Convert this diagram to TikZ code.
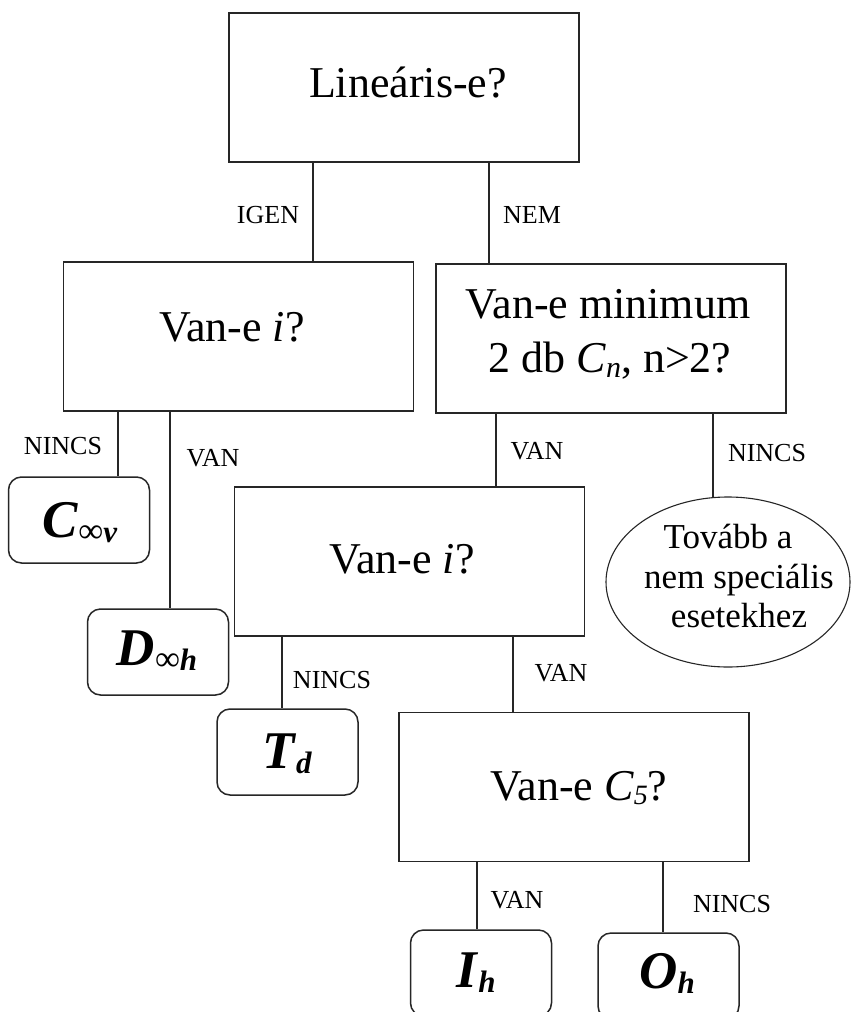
\documentclass[tikz,border=0pt]{standalone}
\usepackage{fontspec}
\setmainfont{Liberation Serif}
\usetikzlibrary{shapes.geometric}
\begin{document}
\begin{tikzpicture}[x=1pt,y=-1pt,
  qbox/.style={draw=black!85, line width=1.5pt, minimum width=350pt, minimum height=149pt, inner sep=0pt},
  rbox/.style={draw=black!85, line width=1.5pt, rounded corners=13pt, minimum width=141pt, minimum height=86pt, inner sep=0pt},
  ebox/.style={draw=black!85, line width=1.1pt, ellipse, minimum width=244pt, minimum height=170pt, inner sep=0pt},
  conn/.style={draw=black!85, line width=1.5pt},
  big/.style={font=\fontsize{44}{44}\selectfont, anchor=base, inner sep=0pt},
  ell/.style={font=\fontsize{35}{35}\selectfont, anchor=base, inner sep=0pt},
  lbl/.style={font=\fontsize{26}{26}\selectfont, anchor=base, inner sep=0pt},
  sym/.style={font=\fontsize{53}{53}\selectfont, anchor=base, inner sep=0pt}]
\fill[white] (0,0) rectangle (851,1012);
\useasboundingbox (0,0) rectangle (851,1012);
\clip (0,0) rectangle (851,1012);
\newcommand{\subtext}[1]{\raisebox{-5pt}{\fontsize{31}{31}\selectfont #1}}
\newcommand{\infsym}{{\fontsize{35}{35}\selectfont ∞}}
% boxes
\node[qbox] (b1) at (404,87.5) {};
\node[qbox] (b2) at (238.5,336.5) {};
\node[qbox] (b3) at (611,338.5) {};
\node[qbox] (b4) at (409.5,561.5) {};
\node[qbox] (b5) at (574,787) {};
\node[rbox] (cv) at (79,520) {};
\node[rbox] (dh) at (158,652) {};
\node[rbox] (td) at (287.5,752) {};
\node[rbox] (ih) at (481,973) {};
\node[rbox] (oh) at (668.5,976) {};
\node[ebox] (el) at (728,582) {};
% texts
\node[big] (t1) at (408,97) {Lineáris-e?};
\node[big] (t2) at (232,341) {Van-e \textit{i}?};
\node[big] (t3a) at (608,318) {Van-e minimum};
\node[big] (t3b) at (610,372) {2 db \textit{C}\raisebox{-5pt}{\fontsize{30}{30}\selectfont\textit{n}}, n>2?};
\node[big] (t4) at (402,573) {Van-e \textit{i}?};
\node[big] (t5) at (579,800) {Van-e \textit{C}\raisebox{-4pt}{\fontsize{28}{28}\selectfont\textit{5}}?};
\node[ell] (e1) at (728,548) {Tovább a};
\node[ell] (e2) at (739,588) {nem speciális};
\node[ell] (e3) at (739,627) {esetekhez};
\node[sym] (s1) at (80,537) {\textbf{\textit{C}}\subtext{\infsym\textbf{\textit{v}}}};
\node[sym] (s2) at (157,665) {\textbf{\textit{D}}\subtext{\infsym\textbf{\textit{h}}}};
\node[sym] (s3) at (287,768) {\textbf{\textit{T}}\subtext{\textbf{\textit{d}}}};
\node[sym] (s4) at (476,987) {\textbf{\textit{I}}\subtext{\textbf{\textit{h}}}};
\node[sym] (s5) at (667,988) {\textbf{\textit{O}}\subtext{\textbf{\textit{h}}}};
% connector x positions
\coordinate (x1) at (313,0);
\coordinate (x2) at (489,0);
\coordinate (x3) at (118,0);
\coordinate (x4) at (170,0);
\coordinate (x5) at (496,0);
\coordinate (x6) at (713,0);
\coordinate (x7) at (282,0);
\coordinate (x8) at (513,0);
\coordinate (x9) at (477,0);
\coordinate (x10) at (663,0);
\draw[conn] (b1.south -| x1) -- (b2.north -| x1);
\draw[conn] (b1.south -| x2) -- (b3.north -| x2);
\draw[conn] (b2.south -| x3) -- (cv.north -| x3);
\draw[conn] (b2.south -| x4) -- (dh.north -| x4);
\draw[conn] (b3.south -| x5) -- (b4.north -| x5);
\draw[conn] (b3.south -| x6) -- ([yshift=-1pt]el.north -| x6);
\draw[conn] (b4.south -| x7) -- (td.north -| x7);
\draw[conn] (b4.south -| x8) -- (b5.north -| x8);
\draw[conn] (b5.south -| x9) -- (ih.north -| x9);
\draw[conn] (b5.south -| x10) -- (oh.north -| x10);
% labels
\node[lbl] (l1) at (268,223) {IGEN};
\node[lbl] (l2) at (532,223) {NEM};
\node[lbl] (l3) at (63,454) {NINCS};
\node[lbl] (l4) at (213,466) {VAN};
\node[lbl] (l5) at (537,459) {VAN};
\node[lbl] (l6) at (767,461) {NINCS};
\node[lbl] (l7) at (332,688) {NINCS};
\node[lbl] (l8) at (561,681) {VAN};
\node[lbl] (l9) at (517,908) {VAN};
\node[lbl] (l10) at (732,912) {NINCS};
\end{tikzpicture}
\end{document}
